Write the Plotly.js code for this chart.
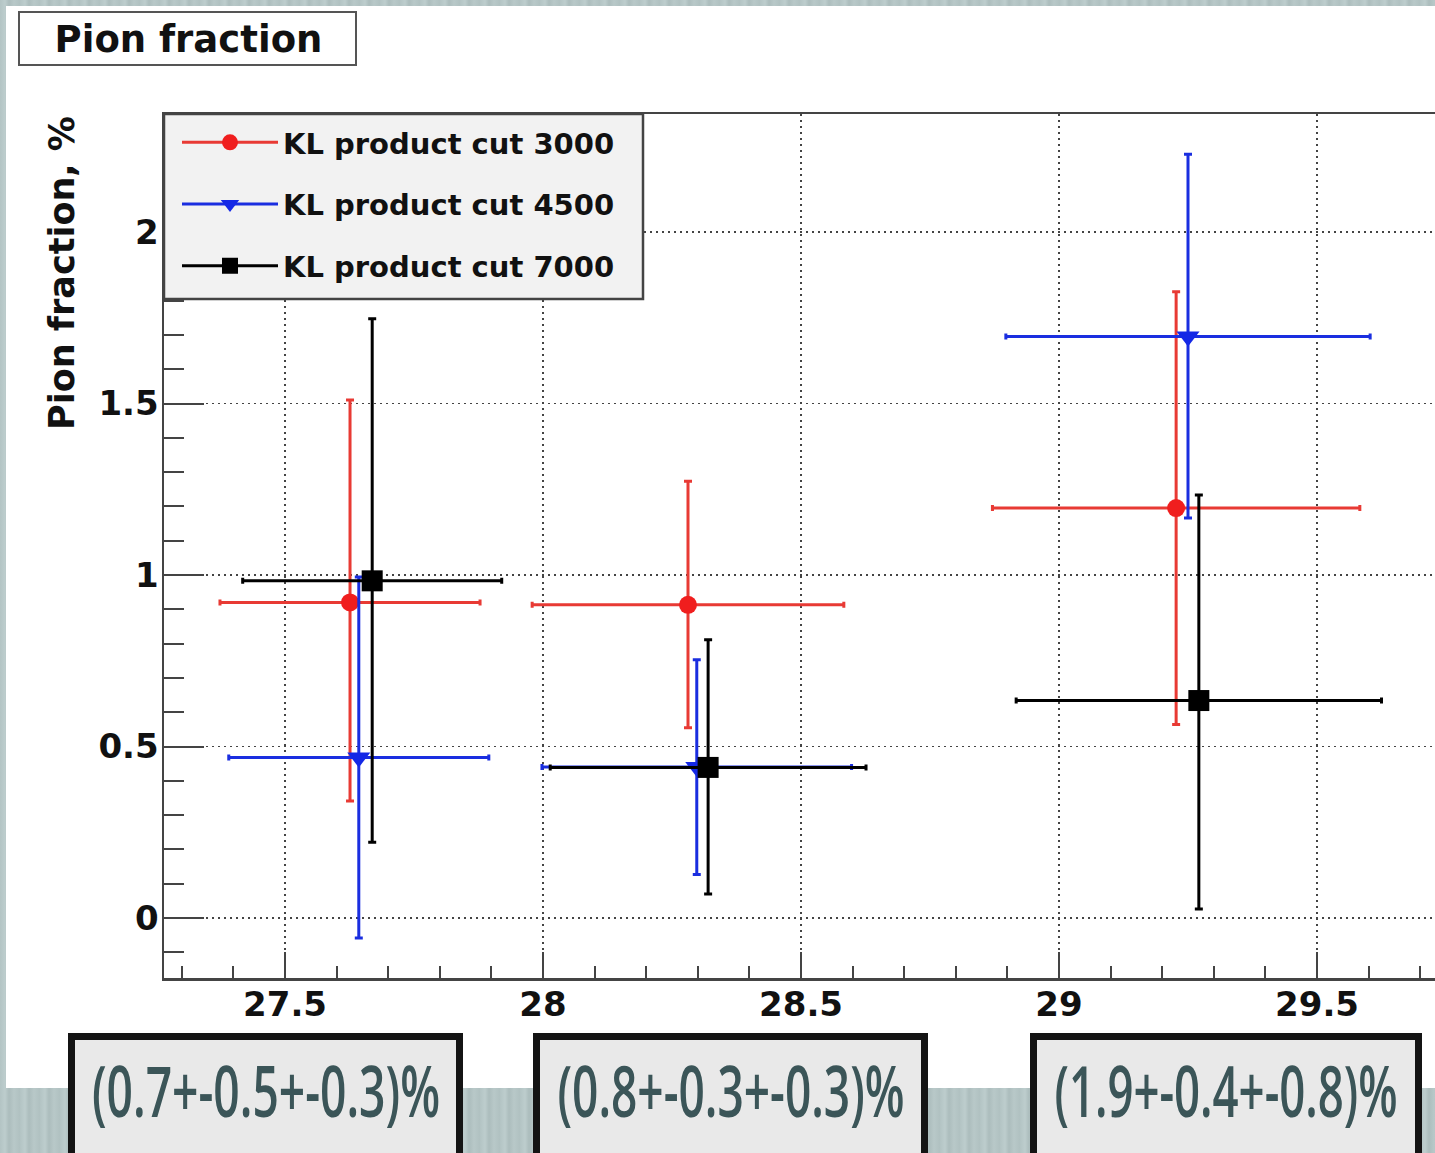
<!DOCTYPE html>
<html>
<head>
<meta charset="utf-8">
<script src="https://cdn.plot.ly/plotly-3.0.1.min.js"></script>
<style>
html, body { margin:0; padding:0; width:1435px; height:1153px; overflow:hidden; }
body {
  background: repeating-linear-gradient(90deg, #b3c4c4 0px, #bdcdcd 5px, #acbdbd 9px, #b8c8c8 14px, #b0c1c1 20px);
}
#plot { position:absolute; left:6px; top:6px; }
.sbox { position:absolute; top:1033px; height:130px; background:#e9e9e9; border:7px solid #141414; box-sizing:border-box; overflow:hidden; }
.sbox span { position:absolute; left:50%; top:1px; white-space:nowrap; font-family:'Open Sans', sans-serif; font-weight:600; font-size:71px; line-height:normal; color:#3b5558; transform-origin:center; }
</style>
</head>
<body>
<div id="plot"></div>
<div class="sbox" style="left:68px;width:395px;"><span></span></div>
<div class="sbox" style="left:533px;width:395px;"><span></span></div>
<div class="sbox" style="left:1030px;width:392px;"><span></span></div>
<script>
// ---- data ----
const seriesNames = ['KL product cut 3000', 'KL product cut 4500', 'KL product cut 7000'];

const x3000 = [27.626, 28.281, 29.227];
const y3000 = [0.920, 0.913, 1.195];
const xErr3000 = [0.252, 0.302, 0.356];
const yErrUp3000 = [0.590, 0.360, 0.631];
const yErrDn3000 = [0.579, 0.358, 0.631];

const x4500 = [27.643, 28.298, 29.250];
const y4500 = [0.468, 0.440, 1.695];
const xErr4500 = [0.252, 0.300, 0.353];
const yErrUp4500 = [0.526, 0.313, 0.532];
const yErrDn4500 = [0.526, 0.313, 0.529];

const x7000 = [27.669, 28.320, 29.271];
const y7000 = [0.983, 0.439, 0.634];
const xErr7000 = [0.251, 0.306, 0.354];
const yErrUp7000 = [0.764, 0.372, 0.599];
const yErrDn7000 = [0.762, 0.369, 0.608];

const summaryLabels = ['(0.7+-0.5+-0.3)%', '(0.8+-0.3+-0.3)%', '(1.9+-0.4+-0.8)%'];
const summaryWidths = [348, 347, 343];

const titleText = 'Pion fraction';
const yTitleText = 'Pion fraction, %';

// ---- layout geometry (page px) ----
const divLeft = 6, divTop = 6, divW = 1462, divH = 1082;
const plotL = 164, plotR = 1455, plotT = 114, plotB = 978;
const pW = plotR - plotL, pH = plotB - plotT;
const px2x = p => (p - plotL) / pW;
const py2y = p => (plotB - p) / pH;

// insert gaps so the legend can show a line while no connecting lines are drawn
const gap = a => a.flatMap((v, i) => i < a.length - 1 ? [v, null] : [v]);

const colors = ['#f01e1e', '#1428e6', '#000000'];
const symbols = ['circle', 'triangle-down', 'square'];
const sizes = [18, 20, 21];
const errColors = ['#e83a34', '#1a2ee0', '#000000'];

const xs = [x3000, x4500, x7000];
const ys = [y3000, y4500, y7000];
const xe = [xErr3000, xErr4500, xErr7000];
const yeu = [yErrUp3000, yErrUp4500, yErrUp7000];
const yed = [yErrDn3000, yErrDn4500, yErrDn7000];

const traces = seriesNames.map((name, i) => ({
  type: 'scatter',
  mode: 'lines+markers',
  name: name,
  legendgroup: 'g' + i,
  x: gap(xs[i]),
  y: gap(ys[i]),
  connectgaps: false,
  line: { color: errColors[i], width: 3 },
  marker: { color: colors[i], symbol: symbols[i], size: sizes[i], line: { width: 0 } },
  error_x: { type: 'data', array: gap(xe[i]), symmetric: true, color: errColors[i], thickness: 3, width: 3 },
  error_y: { type: 'data', array: gap(yeu[i]), arrayminus: gap(yed[i]), symmetric: false, color: errColors[i], thickness: 3, width: 4 }
}));

const tickFont = { family: 'DejaVu Sans', size: 34, weight: 'bold', color: '#111' };

const layout = {
  width: divW, height: divH,
  margin: { l: plotL - divLeft, r: divLeft + divW - plotR, t: plotT - divTop, b: divTop + divH - plotB, pad: 0 },
  paper_bgcolor: '#ffffff',
  plot_bgcolor: '#ffffff',
  showlegend: true,
  title: {
    text: titleText,
    font: { family: 'DejaVu Sans', size: 37, weight: 'bold', color: '#111' },
    xref: 'container', yref: 'container',
    x: (188.5 - divLeft) / divW, xanchor: 'center',
    y: 1 - (39 - divTop) / divH, yanchor: 'middle'
  },
  xaxis: {
    range: [27.5 - (285 - plotL) / 516, 27.5 + (plotR - 285) / 516],
    tick0: 27.5, dtick: 0.5,
    ticks: 'inside', ticklen: 26, tickwidth: 2, tickcolor: '#444',
    showline: true, linecolor: '#444', linewidth: 2.5, mirror: true,
    showgrid: true, gridcolor: '#444', gridwidth: 1.5, griddash: '2px,4px',
    zeroline: false,
    tickfont: tickFont,
    ticklabelstandoff: -5,
    minor: { dtick: 0.1, tick0: 27.5, ticks: 'inside', ticklen: 12, tickwidth: 2, tickcolor: '#444', showgrid: false }
  },
  yaxis: {
    range: [-(plotB - 918) / 343, (918 - plotT) / 343],
    tick0: 0, dtick: 0.5,
    ticks: 'inside', ticklen: 40, tickwidth: 2, tickcolor: '#444',
    showline: true, linecolor: '#444', linewidth: 2.5, mirror: true,
    showgrid: true, gridcolor: '#444', gridwidth: 1.5, griddash: '2px,4px',
    zeroline: false,
    tickfont: tickFont,
    ticklabelstandoff: -4,
    minor: { dtick: 0.1, tick0: 0, ticks: 'inside', ticklen: 20, tickwidth: 2, tickcolor: '#444', showgrid: false }
  },
  legend: {
    x: px2x(177), y: py2y(117), xanchor: 'left', yanchor: 'top',
    bgcolor: 'rgba(0,0,0,0)', borderwidth: 0,
    font: { family: 'DejaVu Sans', size: 29, weight: 'bold', color: '#111' },
    itemwidth: 96,
    traceorder: 'grouped', tracegroupgap: 21
  },
  shapes: [
    { type: 'rect', xref: 'paper', yref: 'paper', layer: 'below',
      x0: px2x(19), x1: px2x(356), y0: py2y(65), y1: py2y(12),
      line: { color: '#555', width: 2 }, fillcolor: '#ffffff' },
    { type: 'rect', xref: 'paper', yref: 'paper', layer: 'above',
      x0: px2x(164), x1: px2x(643), y0: py2y(299), y1: py2y(114),
      line: { color: '#444', width: 2.5 }, fillcolor: '#f2f2f2' }
  ],
  annotations: [
    { text: yTitleText, xref: 'paper', yref: 'paper', x: px2x(62), y: py2y(114),
      xanchor: 'center', yanchor: 'top', textangle: -90, showarrow: false,
      font: { family: 'DejaVu Sans', size: 35, weight: 'bold', color: '#111' } }
  ]
};

Plotly.newPlot('plot', traces, layout, { displayModeBar: false, staticPlot: true });

// summary boxes: real text, condensed horizontally to the width seen in the picture
document.querySelectorAll('.sbox span').forEach((sp, i) => {
  sp.textContent = summaryLabels[i];
  const w = sp.offsetWidth;
  const s = summaryWidths[i] / w;
  sp.style.transform = 'translateX(-50%) scaleX(' + s + ')';
});
</script>
</body>
</html>
